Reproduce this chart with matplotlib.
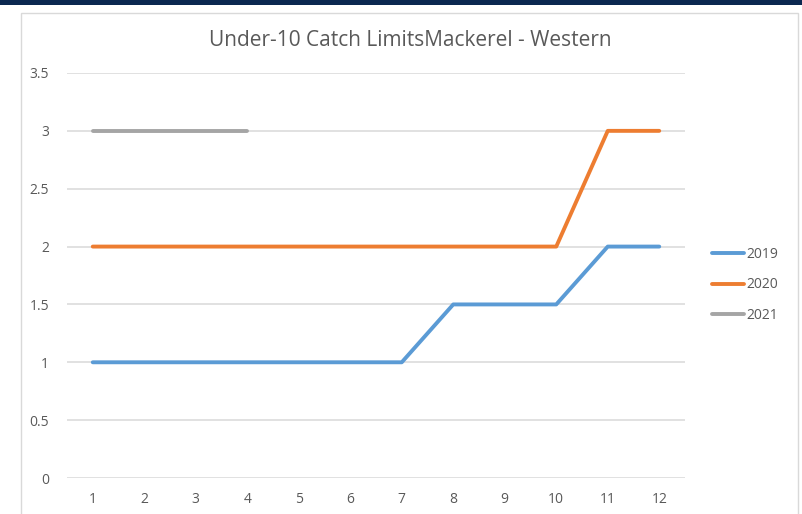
import matplotlib
matplotlib.use("Agg")
import matplotlib.pyplot as plt
from matplotlib.patches import Rectangle

months = [1, 2, 3, 4, 5, 6, 7, 8, 9, 10, 11, 12]
y2019 = [1, 1, 1, 1, 1, 1, 1, 1.5, 1.5, 1.5, 2, 2]
y2020 = [2, 2, 2, 2, 2, 2, 2, 2, 2, 2, 3, 3]
months2021 = [1, 2, 3, 4]
y2021 = [3, 3, 3, 3]
series_labels = ["2019", "2020", "2021"]
yticks = [0, 0.5, 1, 1.5, 2, 2.5, 3, 3.5]
ytick_labels = ["0", "0.5", "1", "1.5", "2", "2.5", "3", "3.5"]
title = "Under-10 Catch LimitsMackerel - Western"

plt.rcParams['font.family'] = ['Open Sans', 'DejaVu Sans']
W, H = 802, 514
fig = plt.figure(figsize=(W/100, H/100), dpi=100)

# navy top band and chart frame
fig.patches.append(Rectangle((0, 1 - 5/H), 1, 5/H, transform=fig.transFigure,
                             facecolor="#0b2850", edgecolor="none", zorder=0))
fig.patches.append(Rectangle((21/W, -0.01), (798-21)/W, 1 - 13/H + 0.01, transform=fig.transFigure,
                             facecolor="white", edgecolor="#d9d9d9", linewidth=1.0, zorder=0))

ax = fig.add_axes([67/W, 1 - 478/H, (685-67)/W, (478-73)/H])
ax.set_zorder(2)
ax.set_facecolor("none")
c19, c20, c21 = "#5b9bd5", "#ed7d31", "#a5a5a5"
kw = dict(lw=2.8, solid_capstyle="round", solid_joinstyle="round", zorder=3)
ax.plot(months, y2019, color=c19, label=series_labels[0], **kw)
ax.plot(months, y2020, color=c20, label=series_labels[1], **kw)
ax.plot(months2021, y2021, color=c21, label=series_labels[2], **kw)

ax.set_xlim(0.5, 12.5)
ax.set_ylim(0, 3.5)
ax.set_xticks(months)
ax.set_xticklabels([str(m) for m in months])
ax.set_yticks(yticks)
ax.set_yticklabels(ytick_labels)
ax.grid(axis="y", color="#d9d9d9", lw=1.1, zorder=0)
for s in ax.spines.values():
    s.set_visible(False)
ax.tick_params(axis="both", length=0, labelsize=10, labelcolor="#595959")
ax.tick_params(axis="x", pad=10)
ax.tick_params(axis="y", pad=13)

fig.text(410/W, 1 - 40/H, title, ha="center", va="center", fontsize=15, color="#595959", zorder=3)

leg = ax.legend(loc="center left", bbox_to_anchor=(712/W, 1 - 285/H), bbox_transform=fig.transFigure,
                frameon=False, fontsize=10, handlelength=2.3, handletextpad=0.2,
                labelspacing=1.1, borderpad=0, borderaxespad=0)
for t in leg.get_texts():
    t.set_color("#595959")

fig.savefig("out.png", dpi=100)
